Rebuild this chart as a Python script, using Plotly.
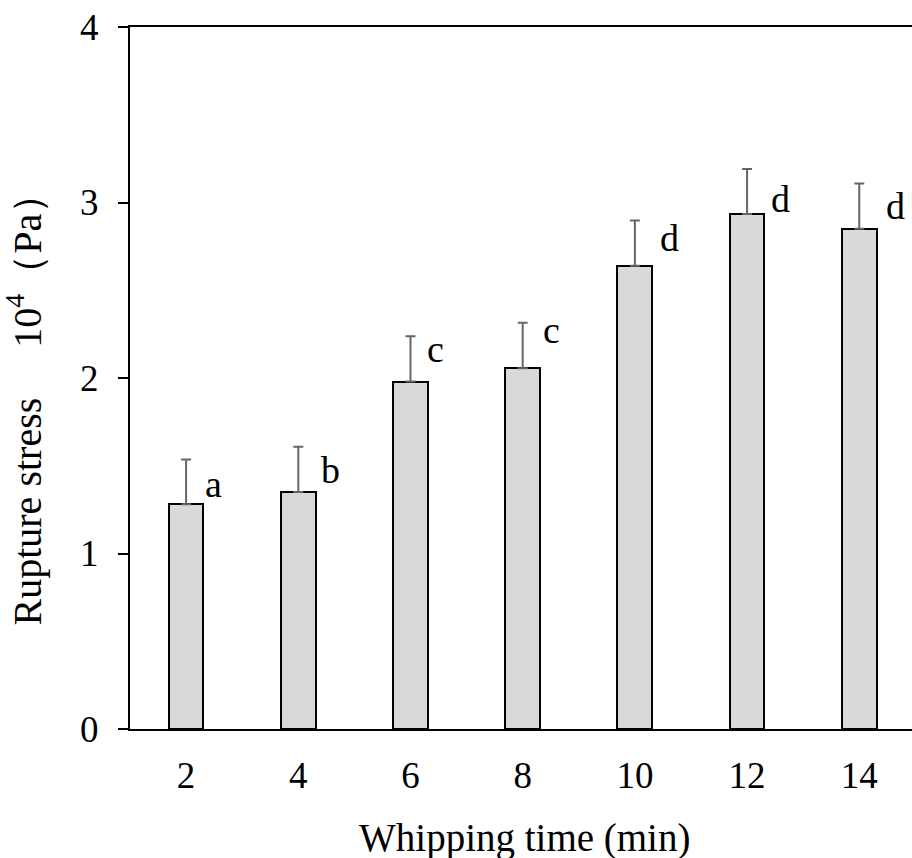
import plotly.graph_objects as go

categories = ["2", "4", "6", "8", "10", "12", "14"]
stress = [1.28, 1.35, 1.98, 2.055, 2.64, 2.935, 2.85]
stress_err = [0.255, 0.258, 0.258, 0.26, 0.258, 0.256, 0.258]
letters = ["a", "b", "c", "c", "d", "d", "d"]
y_ticks = [0, 1, 2, 3, 4]

# letter label pixel offsets from bar top (style)
letter_dx = [27.5, 32.5, 25.5, 29, 35, 33.7, 36]
letter_base = [7, 9, 20, 25, 15, 2, 10]

SERIF = "Liberation Serif, Times New Roman, serif"

fig = go.Figure()
fig.add_trace(go.Bar(
    x=list(range(len(categories))),
    y=stress,
    width=0.31,
    marker=dict(color="#d9d9d9", line=dict(color="black", width=2)),
    error_y=dict(type="data", array=stress_err, arrayminus=[0] * len(stress),
                 symmetric=False, color="#666666", thickness=2, width=5),
    showlegend=False,
))

for i, (v, t) in enumerate(zip(stress, letters)):
    fig.add_annotation(x=i, y=v, xref="x", yref="y", text=t, showarrow=False,
                       xanchor="center", yanchor="bottom",
                       xshift=letter_dx[i], yshift=letter_base[i] - 10,
                       font=dict(family=SERIF, size=38, color="black"))

fig.add_annotation(xref="paper", yref="paper", x=0.504, y=-0.121,
                   xanchor="center", yanchor="top", showarrow=False,
                   text="Whipping time (min)",
                   font=dict(family=SERIF, size=39, color="black"))
fig.add_annotation(xref="paper", yref="paper", x=-0.135, y=0.47,
                   xanchor="center", yanchor="middle", showarrow=False, textangle=-90,
                   text="Rupture stress　 10<sup>4</sup>（Pa）",
                   font=dict(family=SERIF, size=40, color="black"))

fig.update_layout(
    width=912, height=858,
    margin=dict(l=130, r=0, t=27, b=129),
    plot_bgcolor="white", paper_bgcolor="white",
    font=dict(family=SERIF, size=37, color="black"),
    bargap=0,
)
fig.update_xaxes(
    range=[-0.5, 6.47],
    tickmode="array", tickvals=list(range(len(categories))), ticktext=categories,
    showline=True, linecolor="black", linewidth=2, mirror=True,
    ticks="", showgrid=False, zeroline=False, ticklabelstandoff=13,
    tickfont=dict(family=SERIF, size=37, color="black"),
)
fig.update_yaxes(
    range=[0, 4], tickvals=y_ticks,
    showline=True, linecolor="black", linewidth=2,
    ticks="outside", ticklen=10, tickwidth=2, tickcolor="black",
    showgrid=False, zeroline=False, ticklabelstandoff=12,
    tickfont=dict(family=SERIF, size=37, color="black"),
)

fig.write_html("out.html")
